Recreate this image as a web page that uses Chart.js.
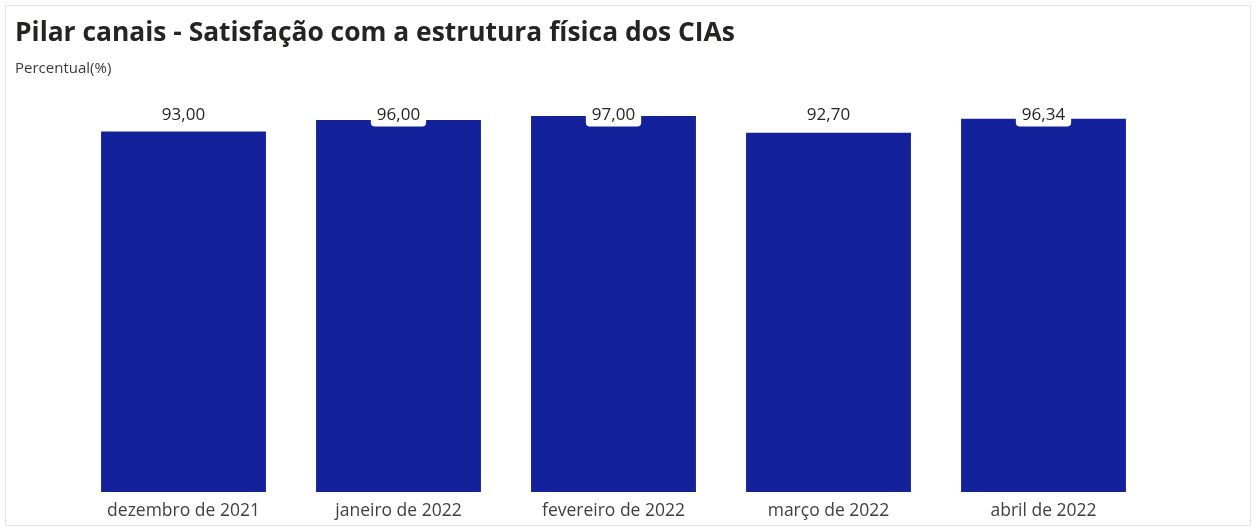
<!DOCTYPE html>
<html>
<head>
<meta charset="utf-8">
<script src="https://cdn.jsdelivr.net/npm/chart.js@4"></script>
<style>
  html, body { margin: 0; padding: 0; background: #fff; }
  #wrap { position: relative; width: 1256px; height: 529px; }
  #frame { position: absolute; left: 5px; top: 5px; width: 1244px; height: 519px; border: 1px solid #e3e3e3; }
  canvas { position: absolute; left: 0; top: 0; }
</style>
</head>
<body>
<div id="wrap">
  <div id="frame"></div>
  <canvas id="chart" width="1256" height="529"></canvas>
</div>
<script>
// meses e percentuais
const months = ['dezembro de 2021', 'janeiro de 2022', 'fevereiro de 2022', 'março de 2022', 'abril de 2022'];
const satisfaction = [93.00, 96.00, 97.00, 92.70, 96.34];

const barColor = '#13229b';
const fontFamily = "'Open Sans', 'Noto Sans', sans-serif";

// rotulos de valor no topo da area do grafico, com fundo branco quando encostam na barra
const valueLabels = {
    id: 'valueLabels',
    afterDatasetsDraw(chart) {
        const ctx = chart.ctx;
        const meta = chart.getDatasetMeta(0);
        const y = chart.chartArea.top + 11;
        ctx.save();
        ctx.font = '17px ' + fontFamily;
        ctx.textAlign = 'center';
        ctx.textBaseline = 'middle';
        meta.data.forEach((bar, i) => {
            const txt = satisfaction[i].toFixed(2).replace('.', ',');
            const w = ctx.measureText(txt).width + 12;
            if (bar.y < y + 12) {
                ctx.fillStyle = '#ffffff';
                ctx.beginPath();
                ctx.roundRect(bar.x - w / 2, y - 11, w, 22, 4);
                ctx.fill();
            }
            ctx.fillStyle = '#252423';
            ctx.fillText(txt, bar.x, y);
        });
        ctx.restore();
    }
};

new Chart(document.getElementById('chart'), {
    type: 'bar',
    data: {
        labels: months,
        datasets: [{
            data: satisfaction,
            backgroundColor: barColor,
            categoryPercentage: 1,
            barPercentage: 0.767
        }]
    },
    options: {
        responsive: false,
        animation: false,
        layout: { padding: { left: 15, right: 105, top: 17.4, bottom: -2 } },
        plugins: {
            legend: { display: false },
            tooltip: { enabled: false },
            title: {
                display: true,
                align: 'start',
                text: 'Pilar canais - Satisfação com a estrutura física dos CIAs',
                color: '#252423',
                font: { family: fontFamily, size: 26.4, weight: 'bold' },
                padding: { top: 0, bottom: 0 }
            },
            subtitle: {
                display: true,
                align: 'start',
                text: 'Percentual(%)',
                color: '#3a3a3a',
                font: { family: fontFamily, size: 15 },
                padding: { top: 10.4, bottom: 27 }
            }
        },
        scales: {
            x: {
                grid: { display: false, drawTicks: false },
                border: { display: false },
                ticks: { color: '#3f3f3f', font: { family: fontFamily, size: 17.5 }, padding: 9 }
            },
            y: {
                min: 0,
                max: 100,
                grid: { display: false, drawTicks: false },
                border: { display: false },
                ticks: { display: false },
                afterFit(scale) { scale.width = 61; }
            }
        }
    },
    plugins: [valueLabels]
});
</script>
</body>
</html>
